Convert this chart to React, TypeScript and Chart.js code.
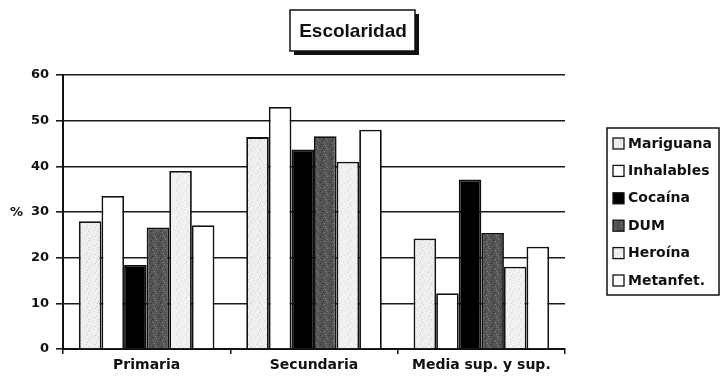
import React, { useEffect, useRef } from "react";
import { Chart, registerables } from "chart.js";

Chart.register(...registerables);

const categories = ["Primaria", "Secundaria", "Media sup. y sup."];
const seriesNames = ["Mariguana", "Inhalables", "Cocaína", "DUM", "Heroína", "Metanfet."];
const mariguana = [28, 46.4, 24.2];
const inhalables = [33.5, 53, 12.2];
const cocaina = [18.4, 43.7, 37.1];
const dum = [26.6, 46.6, 25.4];
const heroina = [39, 41, 18];
const metanfet = [27.1, 48, 22.4];
const yTicks = [0, 10, 20, 30, 40, 50, 60];

const TICK_FONT = "'DejaVu Sans', Verdana, sans-serif";
const TITLE_FONT = "'Liberation Sans', Arial, sans-serif";

// Small stippled tile used as a bar fill
function stipple(base: string, dot: string, alt: string): CanvasPattern | string {
  const c = document.createElement("canvas");
  c.width = 9;
  c.height = 9;
  const g = c.getContext("2d");
  if (!g) return base;
  g.fillStyle = base;
  g.fillRect(0, 0, 9, 9);
  const dots = [[1, 1], [5, 2], [3, 5], [7, 6], [0, 7], [6, 0], [2, 3], [8, 4]];
  dots.forEach(([x, y], k) => {
    g.fillStyle = k % 2 ? dot : alt;
    g.fillRect(x, y, 1, 1);
  });
  return g.createPattern(c, "repeat") || base;
}

const decorPlugin = {
  id: "decor",
  afterDraw(chart: any) {
    const ctx = chart.ctx as CanvasRenderingContext2D;
    const y = chart.scales.y;
    ctx.save();

    // title box with drop shadow
    const tx = 290, ty = 10, tw = 125, th = 41;
    ctx.fillStyle = "#111";
    ctx.fillRect(tx + 4, ty + 4, tw, th);
    ctx.fillStyle = "#fff";
    ctx.fillRect(tx, ty, tw, th);
    ctx.strokeStyle = "#111";
    ctx.lineWidth = 1.5;
    ctx.strokeRect(tx, ty, tw, th);
    ctx.fillStyle = "#111";
    ctx.font = `bold 19px ${TITLE_FONT}`;
    ctx.textAlign = "center";
    ctx.textBaseline = "middle";
    ctx.fillText("Escolaridad", tx + tw / 2 + 0.5, ty + th / 2 + 1);

    // "%" unit label beside the 30 tick
    ctx.font = `bold 13px ${TICK_FONT}`;
    ctx.textAlign = "left";
    ctx.fillText("%", 10, y.getPixelForValue(30) + 1);

    // legend
    const lx = 607, ly = 128, lw = 112, lh = 167;
    ctx.fillStyle = "#fff";
    ctx.fillRect(lx, ly, lw, lh);
    ctx.strokeStyle = "#111";
    ctx.lineWidth = 1.5;
    ctx.strokeRect(lx, ly, lw, lh);
    ctx.font = `bold 14px ${TICK_FONT}`;
    chart.data.datasets.forEach((ds: any, i: number) => {
      const cy = 143 + i * 27.4;
      ctx.fillStyle = ds.backgroundColor;
      ctx.fillRect(lx + 6, cy - 5, 11, 11);
      ctx.strokeStyle = "#111";
      ctx.lineWidth = 1.3;
      ctx.strokeRect(lx + 6, cy - 5, 11, 11);
      ctx.fillStyle = "#111";
      ctx.textAlign = "left";
      ctx.textBaseline = "middle";
      ctx.fillText(ds.label, lx + 21, cy + 1);
    });
    ctx.restore();
  },
};

export default function App() {
  const ref = useRef<HTMLCanvasElement>(null);

  useEffect(() => {
    document.body.style.margin = "0";
    const values = [mariguana, inhalables, cocaina, dum, heroina, metanfet];
    const fills = [
      stipple("#efefef", "#c4c4c4", "#dadada"),
      "#ffffff",
      "#000000",
      stipple("#555555", "#2a2a2a", "#8a8a8a"),
      stipple("#f2f2f2", "#cfcfcf", "#e0e0e0"),
      "#ffffff",
    ];
    const chart = new Chart(ref.current!, {
      type: "bar",
      data: {
        labels: categories,
        datasets: seriesNames.map((name, i) => ({
          label: name,
          data: values[i],
          backgroundColor: fills[i] as any,
          borderColor: "#111",
          borderWidth: 1.8,
          borderSkipped: "bottom",
          categoryPercentage: 0.81,
          barPercentage: 1,
        })),
      },
      options: {
        animation: false,
        responsive: false,
        devicePixelRatio: 1,
        layout: { padding: { top: 75, right: 155, left: 0, bottom: 0 } },
        plugins: { legend: { display: false }, title: { display: false }, tooltip: { enabled: false } },
        scales: {
          x: {
            grid: { display: true, drawOnChartArea: false, drawTicks: true, tickLength: 5, color: "#111", lineWidth: 1.5, offset: true },
            border: { display: true, color: "#111", width: 2 },
            ticks: { color: "#111", font: { family: TICK_FONT, size: 14, weight: "bold" }, padding: 3 },
            afterFit: (s: any) => { s.height = 35; },
          },
          y: {
            min: 0,
            max: 60,
            afterBuildTicks: (s: any) => { s.ticks = yTicks.map((v) => ({ value: v })); },
            grid: { color: "#1a1a1a", lineWidth: 1.6, tickLength: 7 },
            border: { display: true, color: "#111", width: 2 },
            ticks: { color: "#111", font: { family: TICK_FONT, size: 13, weight: "bold" }, padding: 7 },
            afterFit: (s: any) => { s.width = 63; },
          },
        },
      },
      plugins: [decorPlugin],
    });
    return () => chart.destroy();
  }, []);

  return (
    <div style={{ width: 720, height: 384, background: "#fff" }}>
      <canvas ref={ref} width={720} height={384} />
    </div>
  );
}
